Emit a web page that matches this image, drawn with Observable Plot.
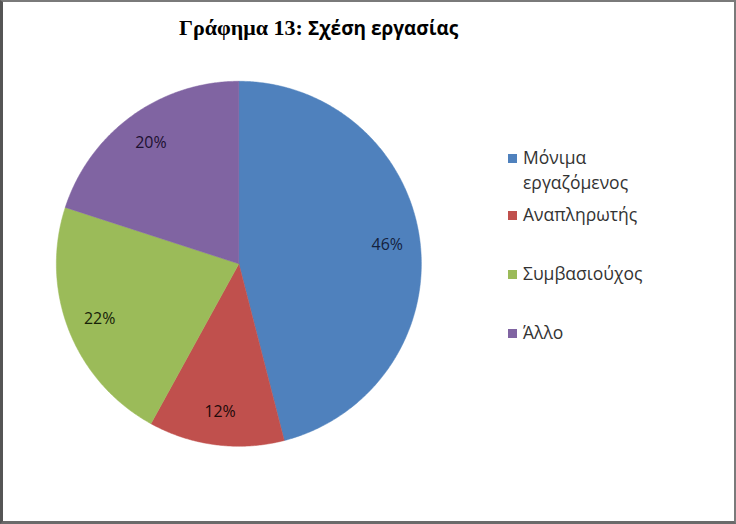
<!DOCTYPE html>
<html>
<head>
<meta charset="utf-8">
<script src="https://cdn.jsdelivr.net/npm/d3@7"></script>
<script src="https://cdn.jsdelivr.net/npm/@observablehq/plot@0.6"></script>
<style>
  html, body { margin: 0; padding: 0; background: #fff; }
  #wrap { position: relative; width: 736px; height: 524px; box-sizing: border-box;
          border: 2px solid #7a7a7a; border-left: 3px solid #555; border-bottom: 3px solid #6a6a6a; overflow: hidden; }
  #chart { position: absolute; left: -3px; top: -2px; }
  #title { position: absolute; left: 176px; top: 13px;
           font-size: 21px; font-weight: bold; color: #000; white-space: nowrap; }
  #title .a { font-family: "Liberation Serif", serif; font-size: 22px; }
  #title .b { font-family: "Open Sans", sans-serif; font-size: 19px; }
  #legend { position: absolute; left: 505px; top: 143px; font-family: "Open Sans", sans-serif; font-size: 17.5px; color: #333; }
  .item { position: absolute; left: 0; white-space: nowrap; line-height: 25px; }
  .sw { position: absolute; left: 0; top: 9px; width: 9px; height: 9px; }
  .lab { position: absolute; left: 15px; top: 0; }
</style>
</head>
<body>
<div id="wrap">
  <div id="chart"></div>
  <div id="title"><span class="a">Γράφημα 13:</span> <span class="b">Σχέση εργασίας</span></div>
  <div id="legend"></div>
</div>
<script>
// Data
const categories = ["Μόνιμα εργαζόμενος", "Αναπληρωτής", "Συμβασιούχος", "Άλλο"];
const legendLines = [["Μόνιμα", "εργαζόμενος"], ["Αναπληρωτής"], ["Συμβασιούχος"], ["Άλλο"]];
const values = [46, 12, 22, 20];
const labels = ["46%", "12%", "22%", "20%"];
const colors = ["#4f81bd", "#c0504d", "#9bbb59", "#8064a2"];
const labelColors = ["#14213d", "#200a0a", "#172208", "#1c1030"];

// Layout
const W = 736, H = 524, CX = 239, CY = 264, R = 183;

const pie = d3.pie().sort(null).value(d => d.value);
const arcs = pie(categories.map((c, i) => ({key: c, value: values[i], label: labels[i], lc: labelColors[i]})));

// Polygon vertices for each slice from computed angles (clockwise from 12 o'clock)
const pts = [];
arcs.forEach(a => {
  const k = a.data.key;
  pts.push({key: k, x: 0, y: 0});
  const steps = Math.max(8, Math.ceil((a.endAngle - a.startAngle) / (Math.PI / 360)));
  for (let s = 0; s <= steps; s++) {
    const t = a.startAngle + (a.endAngle - a.startAngle) * s / steps;
    pts.push({key: k, x: Math.sin(t), y: Math.cos(t)});
  }
  pts.push({key: k, x: 0, y: 0});
});

const lr = 0.82;
const labelPts = arcs.map(a => {
  const m = (a.startAngle + a.endAngle) / 2;
  return {text: a.data.label, x: lr * Math.sin(m), y: lr * Math.cos(m), c: a.data.lc};
});

const plot = Plot.plot({
  width: W, height: H,
  margin: 0,
  x: {domain: [-CX / R, (W - CX) / R], axis: null},
  y: {domain: [-(H - CY) / R, CY / R], axis: null},
  color: {domain: categories, range: colors},
  marks: [
    Plot.line(pts, {x: "x", y: "y", z: "key", fill: "key", stroke: "key", strokeWidth: 0.5, curve: "linear"}),
    Plot.text(labelPts, {x: "x", y: "y", text: "text", fill: d => d.c, fontSize: 16, fontFamily: "Open Sans, sans-serif"})
  ]
});
document.getElementById("chart").appendChild(plot);

// Legend
const legendTops = [0, 57, 116, 175];
const leg = document.getElementById("legend");
categories.forEach((c, i) => {
  const it = document.createElement("div");
  it.className = "item";
  it.style.top = legendTops[i] + "px";
  it.innerHTML = `<div class="sw" style="background:${colors[i]}"></div><div class="lab">${legendLines[i].join("<br>")}</div>`;
  leg.appendChild(it);
});
</script>
</body>
</html>
